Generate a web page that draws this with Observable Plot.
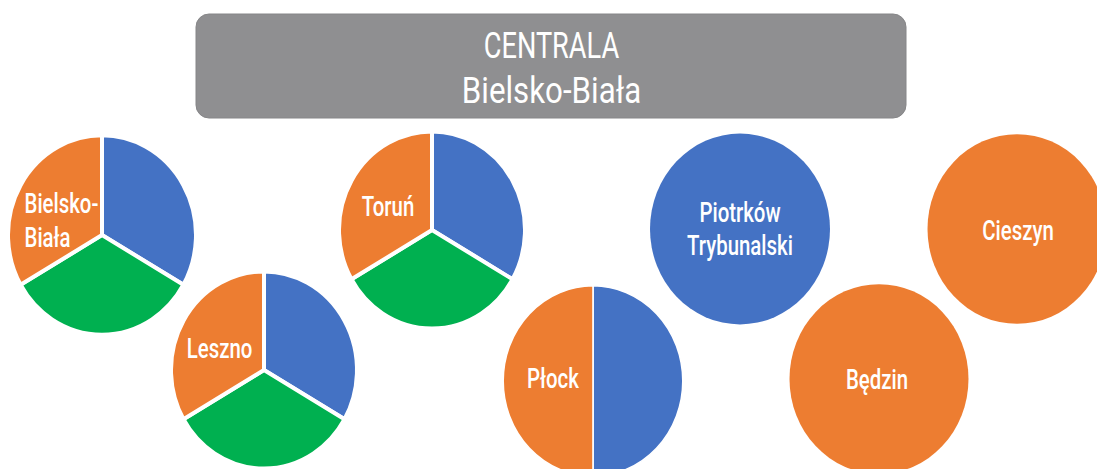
<!DOCTYPE html>
<html>
<head>
<meta charset="utf-8">
<script src="https://cdn.jsdelivr.net/npm/d3@7"></script>
<script src="https://cdn.jsdelivr.net/npm/@observablehq/plot@0.6"></script>
<style>
  html, body { margin: 0; padding: 0; background: #ffffff; }
  #chart svg { display: block; }
</style>
</head>
<body>
<div id="chart"></div>
<script>
// ---------- data ----------
const headerLines = ["CENTRALA", "Bielsko-Biała"];
const cities = ["Bielsko-Biała", "Leszno", "Toruń", "Płock", "Piotrków Trybunalski", "Będzin", "Cieszyn"];
const cityLabels = ["Bielsko-\nBiała", "Leszno", "Toruń", "Płock", "Piotrków\nTrybunalski", "Będzin", "Cieszyn"];
const seriesNames = ["niebieski", "zielony", "pomarańczowy"];
const blueValues   = [1, 1, 1, 1, 1, 0, 0];
const greenValues  = [1, 1, 1, 0, 0, 0, 0];
const orangeValues = [1, 1, 1, 1, 0, 1, 1];
const seriesValues = [blueValues, greenValues, orangeValues];

// ---------- styles ----------
const seriesColors = ["#4472C4", "#00B050", "#ED7D31"];
const FONT = "Roboto, 'Liberation Sans', sans-serif";
const HEADER_SIZE = 34, LABEL_SIZE = 26;

// ---------- layout (pixels) ----------
const W = 1097, H = 469;
const stretch = 1.06;                 // vertical stretch of the original picture
const headerSx = [0.80, 0.92];        // condensed look of the original font
const labelSx = 0.785;
const header = {x1: 196, x2: 906, y1: 14, y2: 118, r: 13, textX: 551, lineY: [45.5, 90.5]};
const centers = [[102, 235], [264, 370], [432, 230], [593, 381], [740, 229], [879, 379], [1017, 229]];
const radii = [92, 91, 91, 89, 90, 89.5, 89.5];
const labelPos = [[24, 219, "start"], [219, 347, "middle"], [387.5, 205, "middle"], [552.5, 377, "middle"],
                  [739.5, 227, "middle"], [876.5, 378, "middle"], [1017.5, 229, "middle"]];

const colorOf = d3.scaleOrdinal(seriesNames, seriesColors);

function pieMark() {
  return (index, scales) => {
    const g = d3.create("svg:g").attr("aria-label", "pies");
    cities.forEach((city, i) => {
      const slices = seriesNames
        .map((s, j) => ({series: s, value: seriesValues[j][i]}))
        .filter(d => d.value > 0);
      const sw = slices.length > 2 ? 4 : (slices.length > 1 ? 1.6 : 0);
      const arcs = d3.pie().sort(null).value(d => d.value)(slices);
      const arc = d3.arc().innerRadius(0).outerRadius(radii[i] + sw / 2);
      const [cx, cy] = centers[i];
      const pg = g.append("g")
        .attr("aria-label", city)
        .attr("transform", `translate(${scales.x(cx)},${scales.y(cy)}) scale(1,${stretch})`);
      pg.selectAll("path").data(arcs).join("path")
        .attr("d", arc)
        .attr("fill", d => colorOf(d.data.series))
        .attr("stroke", sw > 0 ? "#ffffff" : "none")
        .attr("stroke-width", sw)
        .attr("vector-effect", "non-scaling-stroke");
    });
    return g.node();
  };
}

const labelData = cities.map((c, i) => ({
  label: cityLabels[i], x: labelPos[i][0], y: labelPos[i][1], anchor: labelPos[i][2]
}));
const headerData = headerLines.map((t, i) => ({text: t, i}));

const chart = Plot.plot({
  width: W,
  height: H,
  margin: 0,
  x: {domain: [0, W], range: [0, W], axis: null},
  y: {domain: [0, H], range: [0, H], axis: null},
  style: {background: "#ffffff"},
  marks: [
    Plot.rect([header], {
      x1: "x1", x2: "x2", y1: "y1", y2: "y2", rx: header.r,
      fill: "#8f8f91", stroke: "#868688", strokeWidth: 1
    }),
    Plot.text(headerData, {
      x: () => header.textX, y: d => header.lineY[d.i], text: "text",
      fill: "#ffffff", fontSize: HEADER_SIZE, fontFamily: FONT, fontWeight: 400,
      textAnchor: "middle", lineAnchor: "middle"
    }),
    pieMark(),
    Plot.text(labelData.filter(d => d.anchor === "middle"), {
      x: "x", y: "y", text: "label",
      fill: "#ffffff", fontSize: LABEL_SIZE, fontFamily: FONT, fontWeight: 500, lineHeight: 1.2,
      textAnchor: "middle", lineAnchor: "middle"
    }),
    Plot.text(labelData.filter(d => d.anchor === "start"), {
      x: "x", y: "y", text: "label",
      fill: "#ffffff", fontSize: LABEL_SIZE, fontFamily: FONT, fontWeight: 500, lineHeight: 1.235,
      textAnchor: "start", lineAnchor: "middle"
    })
  ]
});

// condensed + vertically stretched text like the original picture
chart.querySelectorAll("text").forEach(t => {
  const tr = t.getAttribute("transform");
  let sx = labelSx;
  if (t.closest(`[font-size="${HEADER_SIZE}"]`)) {
    const k = headerLines.indexOf(t.textContent);
    sx = headerSx[k >= 0 ? k : 0];
  }
  if (tr && tr.startsWith("translate")) t.setAttribute("transform", tr + ` scale(${sx},${stretch})`);
});

document.getElementById("chart").appendChild(chart);
</script>
</body>
</html>
